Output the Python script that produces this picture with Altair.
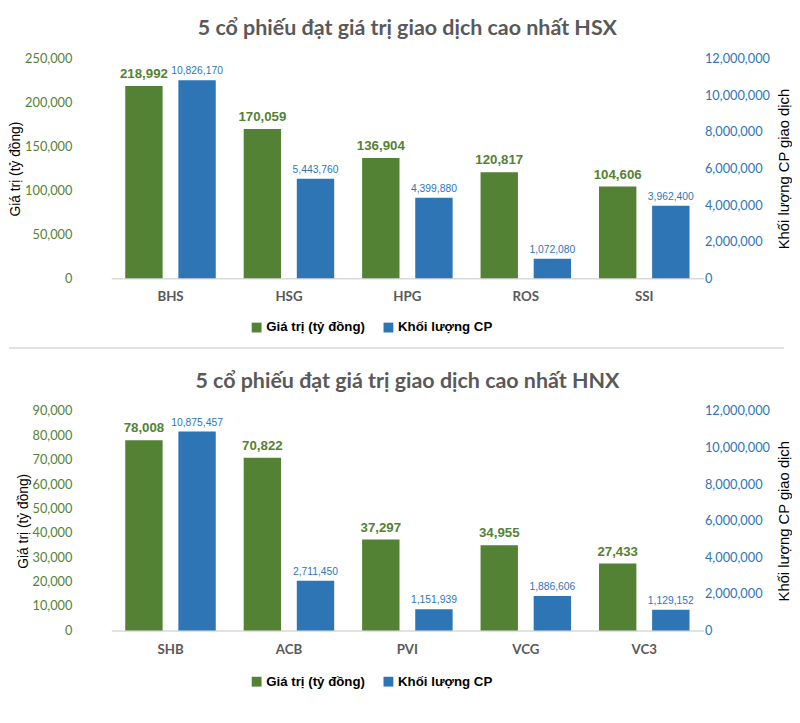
import altair as alt
import pandas as pd

# ---- data ----
hsx_codes = ["BHS", "HSG", "HPG", "ROS", "SSI"]
hsx_value = [218992, 170059, 136904, 120817, 104606]
hsx_volume = [10826170, 5443760, 4399880, 1072080, 3962400]

hnx_codes = ["SHB", "ACB", "PVI", "VCG", "VC3"]
hnx_value = [78008, 70822, 37297, 34955, 27433]
hnx_volume = [10875457, 2711450, 1151939, 1886606, 1129152]

series_names = ["Giá trị (tỷ đồng)", "Khối lượng CP"]
hsx_title = "5 cổ phiếu đạt giá trị giao dịch cao nhất HSX"
hnx_title = "5 cổ phiếu đạt giá trị giao dịch cao nhất HNX"
left_title = "Giá trị (tỷ đồng)"
right_title = "Khối lượng CP giao dịch"

GREEN = "#548235"
BLUE = "#2E75B6"
ARIAL = "Liberation Sans"
CAL = "Lato"


def panel(codes, values, volumes, title, left_max, left_step, legend_y):
    dfv = pd.DataFrame({"code": codes, "amount": values, "series": series_names[0]})
    dfb = pd.DataFrame({"code": codes, "amount": volumes, "series": series_names[1]})

    x = alt.X(
        "code:N", sort=codes,
        scale=alt.Scale(paddingInner=0, paddingOuter=0),
        axis=alt.Axis(title=None, labelAngle=0, ticks=False, domainColor="#D9D9D9",
                      domainWidth=1.5, labelColor="#595959", labelFont=CAL,
                      labelFontWeight="bold", labelFontSize=13.5, labelPadding=12),
    )
    color = alt.Color(
        "series:N",
        scale=alt.Scale(domain=series_names, range=[GREEN, BLUE]),
        legend=alt.Legend(title=None, orient="none", legendX=141, legendY=legend_y,
                          direction="horizontal", symbolType="square",
                          symbolSize=100, symbolStrokeWidth=0,
                          labelFont=ARIAL, labelFontSize=13.5,
                          labelFontWeight="bold", labelColor="#000000",
                          labelOffset=3, columnPadding=17),
    )

    yl = alt.Y("amount:Q", scale=alt.Scale(domain=[0, left_max]),
               axis=alt.Axis(values=list(range(0, left_max + 1, left_step)), format=",.0f",
                             grid=False, ticks=False, domain=False,
                             labelColor=GREEN, labelFont=CAL, labelFontSize=13,
                             labelPadding=40, title=left_title,
                             titleFont=ARIAL, titleFontSize=14,
                             titleFontWeight="normal", titleColor="#000000",
                             titlePadding=2))
    yr = alt.Y("amount:Q", scale=alt.Scale(domain=[0, 12000000]),
               axis=alt.Axis(orient="right", values=list(range(0, 12000001, 2000000)),
                             format=",.0f", grid=False, ticks=False, domain=False,
                             labelColor=BLUE, labelFont=CAL, labelFontSize=13,
                             labelPadding=1, title=right_title, titleAngle=270,
                             titleBaseline="top",
                             titleFont=ARIAL, titleFontSize=15,
                             titleFontWeight="normal", titleColor="#000000",
                             titlePadding=7))

    bv = alt.Chart(dfv).mark_bar(size=38, xOffset=-27).encode(x=x, y=yl, color=color)
    tv = alt.Chart(dfv).mark_text(xOffset=-27, dy=-5, baseline="bottom", font=ARIAL,
                                  fontSize=13.5, fontWeight="bold", color=GREEN).encode(
        x=x, y=yl, text=alt.Text("amount:Q", format=",.0f"))
    bb = alt.Chart(dfb).mark_bar(size=38, xOffset=27).encode(x=x, y=yr, color=color)
    tb = alt.Chart(dfb).mark_text(xOffset=27, dy=-4, baseline="bottom", font=ARIAL,
                                  fontSize=10.5, color=BLUE).encode(
        x=x, y=yr, text=alt.Text("amount:Q", format=",.0f"))

    left = alt.layer(bv, tv)
    right = alt.layer(bb, tb)
    return alt.layer(left, right).resolve_scale(y="independent").properties(
        width=602, height=223,
        title=alt.TitleParams(title, font=CAL, fontSize=21.8, fontWeight="bold",
                              color="#595959", anchor="middle", offset=13),
    )


top = panel(hsx_codes, hsx_value, hsx_volume, hsx_title, 250000, 50000, 266)
bottom = panel(hnx_codes, hnx_value, hnx_volume, hnx_title, 90000, 10000, 268)

sep = alt.Chart(pd.DataFrame({"a": [0]})).mark_rule(color="#E3E3E3", strokeWidth=2).encode(
    x=alt.value(-104), x2=alt.value(684), y=alt.value(0)
).properties(width=602, height=10)

chart = alt.vconcat(top, sep, bottom, spacing=13).resolve_scale(
    color="independent").resolve_legend(color="independent").properties(
    padding={"left": 0, "top": 5, "right": 0, "bottom": 5}
).configure_view(stroke=None)

chart.save("out.html", embed_options={"renderer": "svg", "actions": False})
